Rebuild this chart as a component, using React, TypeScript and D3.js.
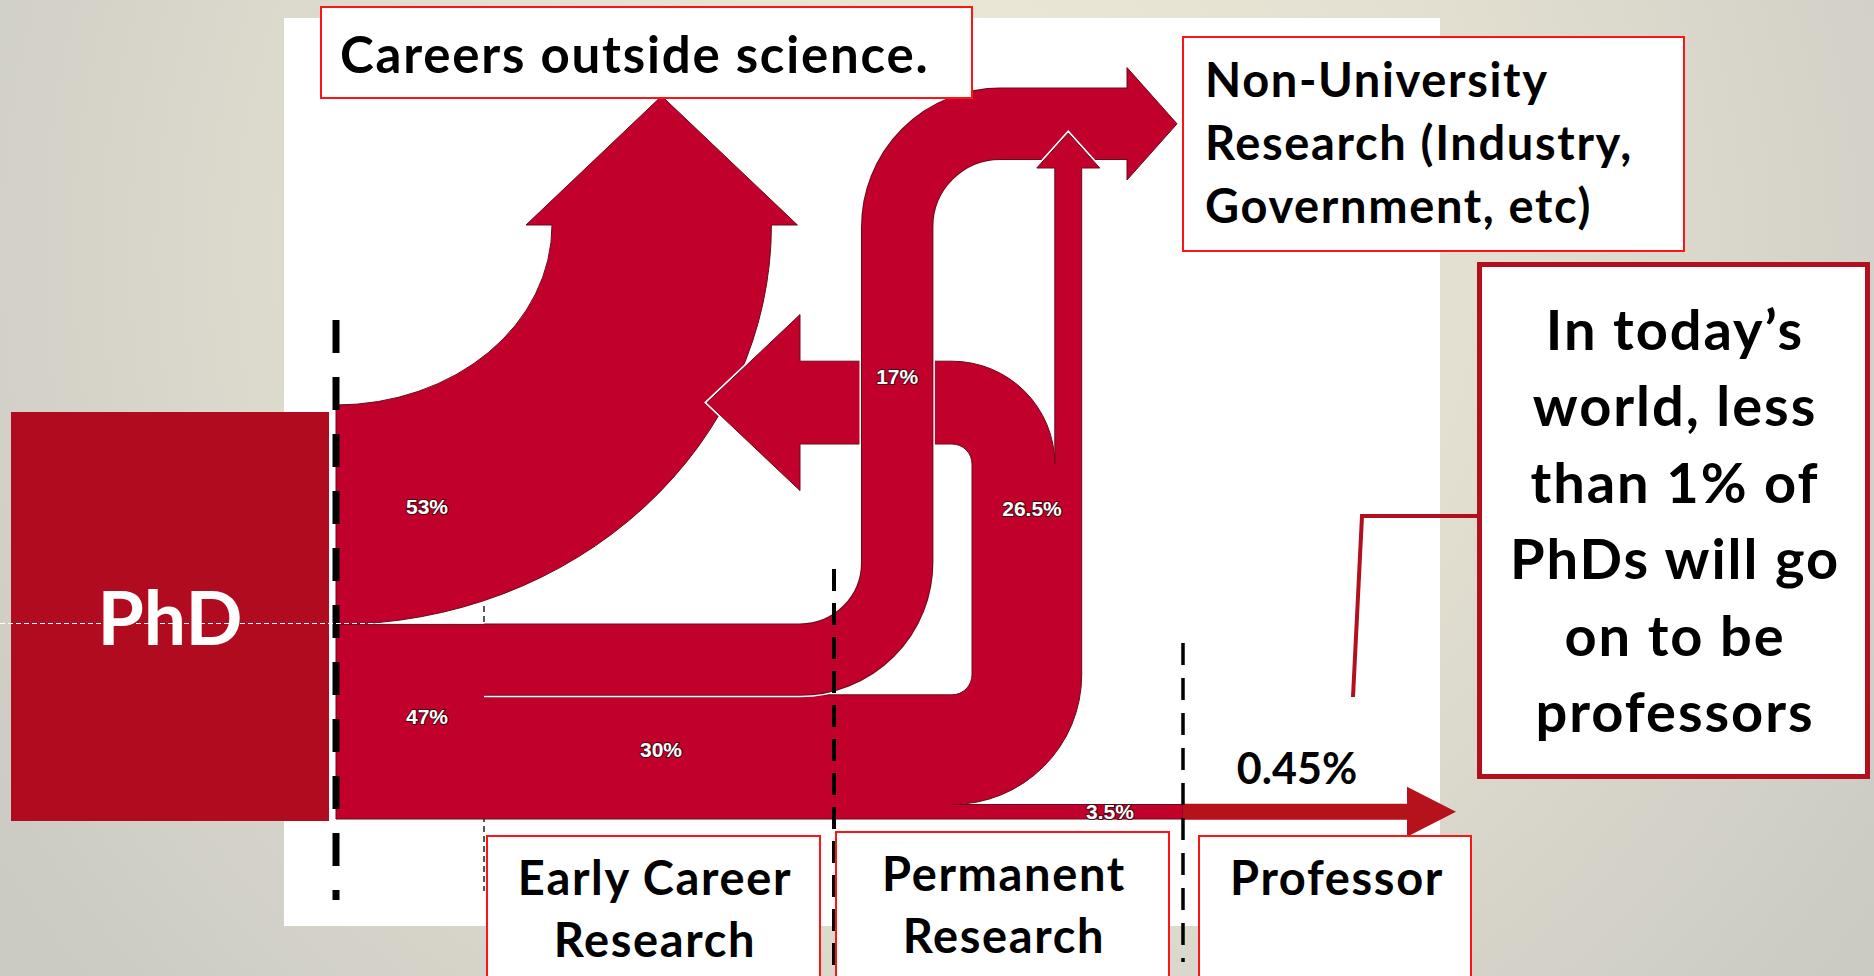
import React, { useEffect, useRef } from "react";
import * as d3 from "d3";

const W = 1874;
const H = 976;

const stageNames = ["PhD", "Early Career Research", "Permanent Research", "Professor"];

// flow shares (% of all PhDs)
const phdFlows = [53, 47]; // careers outside science, early career research
const earlyFlows = [17, 30]; // non-university research, permanent research
const permanentFlows = [26.5, 3.5]; // leave permanent research, continue towards professor
const leaveSplit = [20, 6.5]; // of the 26.5: back out of science, to non-university (estimated)
const professorShare = [0.45];

const topBoxText = ["Careers outside science."];
const nonUniLines = ["Non-University", "Research (Industry,", "Government, etc)"];
const calloutLines = ["In today’s", "world, less", "than 1% of", "PhDs will go", "on to be", "professors"];
const stageBoxLines = [["Early Career", "Research"], ["Permanent", "Research"], ["Professor"]];

const RED = "#c1002b";
const EDGE = "#6a0a18";
const BOX_RED = "#ff1414";
const DARK_RED = "#b3101f";
const FONT = "Lato, 'Open Sans', sans-serif";
const PCT_FONT = "'Liberation Sans', Arial, sans-serif";

function App() {
  const ref = useRef<SVGSVGElement | null>(null);

  useEffect(() => {
    const svg = d3.select(ref.current);
    svg.selectAll("*").remove();

    const defs = svg.append("defs");
    const grad = defs.append("radialGradient").attr("id", "bg")
      .attr("gradientUnits", "userSpaceOnUse").attr("cx", 950).attr("cy", 250).attr("r", 1150);
    grad.append("stop").attr("offset", 0).attr("stop-color", "#efebda");
    grad.append("stop").attr("offset", 0.45).attr("stop-color", "#e3e0d1");
    grad.append("stop").attr("offset", 1).attr("stop-color", "#cbcac3");
    svg.append("rect").attr("width", W).attr("height", H).attr("fill", "url(#bg)");

    svg.append("rect").attr("x", 284).attr("y", 18).attr("width", 1156).attr("height", 908).attr("fill", "#fff");

    // band thickness scale: 100% of PhDs = full height of the PhD box
    const k = d3.scaleLinear().domain([0, 100]).range([0, 414]);

    const x0 = 336, x1 = 484, x2 = 834, x3 = 1183;
    const yTop = 405;
    const yMid = yTop + k(phdFlows[0]);
    const yBot = yMid + k(phdFlows[1]);
    const y17 = yMid + k(earlyFlows[0]);
    const yStrip = yBot - k(permanentFlows[1]);

    // thin dashed divider behind the flows
    svg.append("line").attr("x1", x1).attr("x2", x1).attr("y1", 606).attr("y2", 891)
      .attr("stroke", "#222").attr("stroke-width", 1.5).attr("stroke-dasharray", "6 4");

    // 53% -> careers outside science (quarter ellipses around one centre)
    const t53 = k(phdFlows[0]);
    const arrowBase = 225;
    const rxIn = 216, ryIn = yTop - arrowBase;
    const rxOut = rxIn + t53, ryOut = ryIn + t53;
    const upMid = x0 + rxIn + t53 / 2;
    const d53 = `M${x0},${yTop} A${rxIn},${ryIn} 0 0 0 ${x0 + rxIn},${arrowBase}
      L${x0 + rxIn - 26},${arrowBase} L${upMid},96 L${x0 + rxOut + 26},${arrowBase}
      L${x0 + rxOut},${arrowBase} A${rxOut},${ryOut} 0 0 1 ${x0},${yMid} Z`;
    svg.append("path").attr("d", d53).attr("fill", RED).attr("stroke", EDGE).attr("stroke-width", 1);

    // 47% -> 30% -> permanent research, splitting back out and on to professor
    const t265 = k(permanentFlows[0]);
    const tOut = k(leaveSplit[0]);
    const xL = 972, xR = xL + t265, xThin = xL + tOut;
    const r = 20;
    const notchTop = 444, bodyTop = notchTop - tOut, bodyMid = (notchTop + bodyTop) / 2;
    const headX = 800, tipX = 707, headHalf = 88;
    const thinMid = (xThin + xR) / 2, thinHead = 168, thinTip = 133, thinHalf = 31.5;
    const lowerD = `M${x0},${yMid} L${x1 + 10},${yMid} L${x1 + 10},${y17} L${xL - r},${y17}
      A${r},${r} 0 0 0 ${xL},${y17 - r} L${xL},${notchTop + r}
      A${r},${r} 0 0 0 ${xL - r},${notchTop} L${headX},${notchTop} L${headX},${bodyMid + headHalf}
      L${tipX},${bodyMid} L${headX},${bodyMid - headHalf} L${headX},${bodyTop} L${xL - r},${bodyTop}
      A${r + tOut},${r + tOut} 0 0 1 ${xThin},${notchTop + r} L${xThin},${thinHead}
      L${thinMid - thinHalf},${thinHead} L${thinMid},${thinTip} L${thinMid + thinHalf},${thinHead}
      L${xR},${thinHead} L${xR},${y17 - r}
      A${r + t265},${r + t265} 0 0 1 ${xL - r},${yStrip} L${x3},${yStrip} L${x3},${yBot} L${x0},${yBot} Z`;
    svg.append("path").attr("d", lowerD).attr("fill", RED).attr("stroke", EDGE).attr("stroke-width", 1);

    const overlay = (d: string) => {
      svg.append("path").attr("d", d).attr("fill", RED).attr("stroke", "#fff").attr("stroke-width", 4);
      svg.append("path").attr("d", d).attr("fill", RED).attr("stroke", EDGE).attr("stroke-width", 1);
    };
    // head of the arrow back to "outside science", lying over the 53% band
    overlay(`M${headX + 50},${bodyTop} L${headX},${bodyTop} L${headX},${bodyMid - headHalf} L${tipX},${bodyMid}
      L${headX},${bodyMid + headHalf} L${headX},${notchTop} L${headX + 50},${notchTop}`);

    // 17% -> non-university research
    const t17 = k(earlyFlows[0]);
    const barX = 862 + t17 / 2;
    const topY = 123.8;
    const endX = 1127;
    const p17 = d3.path();
    p17.moveTo(x1, yMid + t17 / 2);
    p17.arcTo(barX, yMid + t17 / 2, barX, topY, 62 + t17 / 2);
    p17.arcTo(barX, topY, endX, topY, 68 + t17 / 2);
    p17.lineTo(endX, topY);
    [["#fff", t17 + 5], [EDGE, t17 + 2], [RED, t17]].forEach(([c, w]) => {
      svg.append("path").attr("d", p17.toString()).attr("fill", "none")
        .attr("stroke", c as string).attr("stroke-width", w as number);
    });
    svg.append("path")
      .attr("d", `M${endX},${topY - t17 / 2} L${endX},${topY - t17 / 2 - 21} L1177,${topY}
        L${endX},${topY + t17 / 2 + 21} L${endX},${topY + t17 / 2}`)
      .attr("fill", RED).attr("stroke", EDGE).attr("stroke-width", 1);

    // thin arrow from permanent research up to non-university research
    overlay(`M${xThin},200 L${xThin},${thinHead} L${thinMid - thinHalf},${thinHead} L${thinMid},${thinTip}
      L${thinMid + thinHalf},${thinHead} L${xR},${thinHead} L${xR},200`);

    // professor arrow
    const py = (yStrip + yBot) / 2;
    svg.append("path")
      .attr("d", `M${x3},${py - 8} L1407,${py - 8} L1407,${py - 25} L1456,${py} L1407,${py + 25} L1407,${py + 8} L${x3},${py + 8} Z`)
      .attr("fill", "#b5121b");

    // percentage labels
    const pct = [
      { v: phdFlows[0], x: x0 + 91, y: 506 },
      { v: phdFlows[1], x: x0 + 91, y: 716 },
      { v: earlyFlows[1], x: 661, y: 749 },
      { v: earlyFlows[0], x: barX, y: 376 },
      { v: permanentFlows[0], x: 1032, y: 508 },
      { v: permanentFlows[1], x: 1110, y: (yStrip + yBot) / 2 },
    ];
    svg.selectAll("text.pct").data(pct).join("text").attr("class", "pct")
      .attr("x", d => d.x).attr("y", d => d.y)
      .attr("text-anchor", "middle").attr("dominant-baseline", "central")
      .attr("font-family", PCT_FONT).attr("font-weight", 700).attr("font-size", 21)
      .attr("fill", "#fff").attr("stroke", "#4a0612").attr("stroke-width", 2).attr("paint-order", "stroke")
      .text(d => `${d.v}%`);

    svg.append("text").attr("x", 1297).attr("y", 784).attr("text-anchor", "middle")
      .attr("font-family", FONT).attr("font-weight", 700).attr("font-size", 43).attr("fill", "#000")
      .text(`${professorShare[0]}%`);

    // stage dividers
    const dash = (x: number, ya: number, yb: number, w: number, da: string) =>
      svg.append("line").attr("x1", x).attr("x2", x).attr("y1", ya).attr("y2", yb)
        .attr("stroke", "#000").attr("stroke-width", w).attr("stroke-dasharray", da);
    dash(x0, 320, 900, 7, "33 24");
    dash(x2, 569, 976, 4, "22 12");
    dash(x3, 643, 962, 3.5, "22 13");

    // PhD block
    svg.append("rect").attr("x", 11).attr("y", 412).attr("width", 318).attr("height", 409).attr("fill", "#b00b1e");
    svg.append("text").attr("x", 170).attr("y", 645).attr("text-anchor", "middle")
      .attr("font-family", FONT).attr("font-weight", 700).attr("font-size", 75).attr("fill", "#fff")
      .text(stageNames[0]);
    svg.append("line").attr("x1", 0).attr("x2", 384).attr("y1", 623.5).attr("y2", 623.5)
      .attr("stroke", "#fff").attr("stroke-width", 1.2).attr("stroke-dasharray", "5 3");

    // text boxes
    const box = (x: number, y: number, w: number, h: number, stroke: string, sw: number) =>
      svg.append("rect").attr("x", x).attr("y", y).attr("width", w).attr("height", h)
        .attr("fill", "#fff").attr("stroke", stroke).attr("stroke-width", sw);
    const lines = (arr: string[], x: number, y0: number, step: number, size: number, anchor: string) =>
      arr.forEach((s, i) => {
        svg.append("text").attr("x", x).attr("y", y0 + i * step).attr("text-anchor", anchor)
          .attr("font-family", FONT).attr("font-weight", 700).attr("font-size", size).attr("fill", "#000")
          .attr("letter-spacing", "0.035em")
          .text(s);
      });

    box(321, 7, 651, 91, BOX_RED, 2);
    lines(topBoxText, 340, 73, 0, 51, "start");

    box(1183, 37, 501, 214, BOX_RED, 2);
    lines(nonUniLines, 1205, 97, 63, 47, "start");

    box(1479.5, 264.5, 388, 512, DARK_RED, 5);
    lines(calloutLines, 1675, 350, 76.4, 56, "middle");
    svg.append("path").attr("d", "M1477,516 L1362,516 L1353,697").attr("fill", "none")
      .attr("stroke", DARK_RED).attr("stroke-width", 4);

    const stageBoxes = [
      { x: 487, y: 836, w: 333, cx: 655 },
      { x: 836, y: 832, w: 333, cx: 1004 },
      { x: 1199, y: 836, w: 272, cx: 1337 },
    ];
    stageBoxes.forEach((b, i) => {
      box(b.x, b.y, b.w, 200, BOX_RED, 2);
      lines(stageBoxLines[i], b.cx, b.y + 59, 62, 47, "middle");
    });
  }, []);

  return (
    <svg ref={ref} width={W} height={H}
      style={{ position: "absolute", left: 0, top: 0, display: "block" }} />
  );
}

export default App;
